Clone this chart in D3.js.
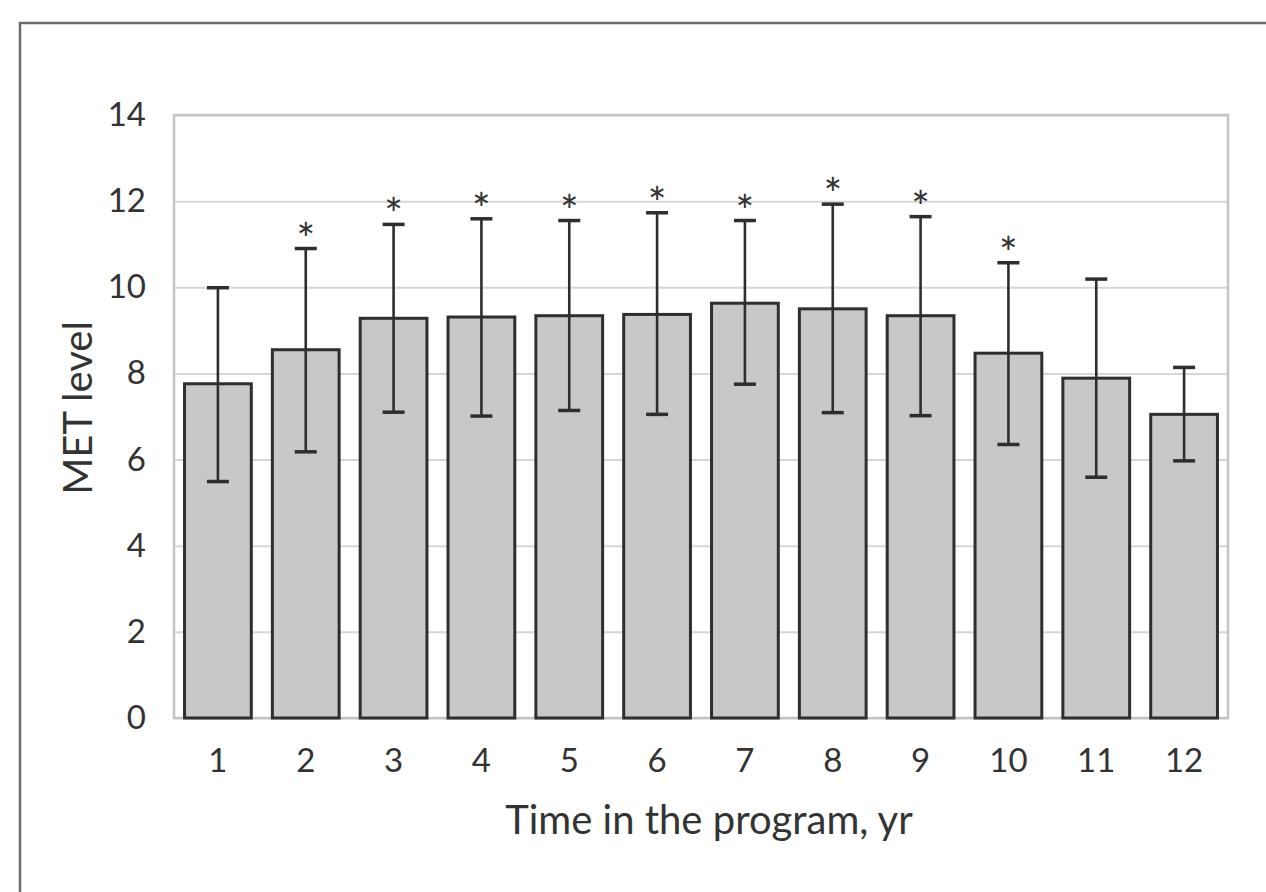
<!DOCTYPE html>
<html>
<head>
<meta charset="utf-8">
<script src="https://cdn.jsdelivr.net/npm/d3@7"></script>
<style>
  body { margin: 0; background: #fff; }
  svg { display: block; }
  text { font-family: Lato, "Open Sans", sans-serif; fill: #333; }
</style>
</head>
<body>
<div class="main"></div>
<script>
// values
var years = ["1", "2", "3", "4", "5", "6", "7", "8", "9", "10", "11", "12"];
var metMean = [7.76, 8.55, 9.28, 9.31, 9.34, 9.37, 9.63, 9.50, 9.34, 8.47, 7.89, 7.05];
var metUpper = [9.99, 10.90, 11.46, 11.59, 11.55, 11.73, 11.55, 11.93, 11.64, 10.57, 10.19, 8.14];
var metLower = [5.49, 6.18, 7.10, 7.01, 7.14, 7.05, 7.75, 7.09, 7.02, 6.35, 5.59, 5.97];
var significant = [false, true, true, true, true, true, true, true, true, true, false, false];
var yTicks = [0, 2, 4, 6, 8, 10, 12, 14];

var W = 1266, H = 892;
var plot = {left: 174, right: 1228, top: 115, bottom: 718};

var svg = d3.select(".main").append("svg")
    .attr("width", W)
    .attr("height", H);

// outer frame (runs off the right and bottom edge)
svg.append("rect")
    .attr("x", 20).attr("y", 23)
    .attr("width", 1400).attr("height", 1000)
    .attr("fill", "none")
    .attr("stroke", "#6b6b6b")
    .attr("stroke-width", 2.5);

var x = d3.scaleBand()
    .domain(years)
    .range([plot.left, plot.right])
    .paddingInner(0.24)
    .paddingOuter(0.12);

var y = d3.scaleLinear()
    .domain([0, 14])
    .range([plot.bottom, plot.top]);

// gridlines
svg.append("g")
    .attr("transform", "translate(" + plot.left + ",0)")
    .call(d3.axisLeft(y).tickValues(yTicks).tickSize(-(plot.right - plot.left)).tickFormat(""))
    .call(function(g) {
        g.select(".domain").remove();
        g.selectAll("line").attr("stroke", "#d6d6d6").attr("stroke-width", 2);
    });

// plot border
svg.append("rect")
    .attr("x", plot.left).attr("y", plot.top)
    .attr("width", plot.right - plot.left)
    .attr("height", plot.bottom - plot.top)
    .attr("fill", "none")
    .attr("stroke", "#c4c4c4")
    .attr("stroke-width", 2.5);

// y tick labels
svg.append("g")
    .attr("transform", "translate(" + plot.left + ",0)")
    .call(d3.axisLeft(y).tickValues(yTicks).tickSize(0).tickPadding(28))
    .call(function(g) {
        g.select(".domain").remove();
        g.selectAll("text")
            .attr("font-size", 33)
            .attr("font-family", "Lato, sans-serif")
            .attr("fill", "#333");
    });

// x tick labels
svg.append("g")
    .attr("transform", "translate(0," + plot.bottom + ")")
    .call(d3.axisBottom(x).tickSize(0).tickPadding(31))
    .call(function(g) {
        g.select(".domain").remove();
        g.selectAll("text")
            .attr("font-size", 33)
            .attr("font-family", "Lato, sans-serif")
            .attr("fill", "#333");
    });

var data = years.map(function(d, i) {
    return {year: d, mean: metMean[i], hi: metUpper[i], lo: metLower[i], sig: significant[i]};
});

// bars
svg.append("g").selectAll("rect")
    .data(data)
    .join("rect")
    .attr("x", function(d) { return x(d.year); })
    .attr("y", function(d) { return y(d.mean); })
    .attr("width", x.bandwidth())
    .attr("height", function(d) { return y(0) - y(d.mean); })
    .attr("fill", "#c7c8ca")
    .attr("stroke", "#2e2e2e")
    .attr("stroke-width", 3);

// error bars
var capW = 22;
var err = svg.append("g").selectAll("g")
    .data(data)
    .join("g")
    .attr("stroke", "#2e2e2e")
    .attr("stroke-width", 2.6);

err.append("line")
    .attr("x1", function(d) { return x(d.year) + x.bandwidth() / 2; })
    .attr("x2", function(d) { return x(d.year) + x.bandwidth() / 2; })
    .attr("y1", function(d) { return y(d.lo); })
    .attr("y2", function(d) { return y(d.hi); });

err.append("line")
    .attr("x1", function(d) { return x(d.year) + x.bandwidth() / 2 - capW / 2; })
    .attr("x2", function(d) { return x(d.year) + x.bandwidth() / 2 + capW / 2; })
    .attr("y1", function(d) { return y(d.hi); })
    .attr("y2", function(d) { return y(d.hi); })
    .attr("stroke-width", 3.5);

err.append("line")
    .attr("x1", function(d) { return x(d.year) + x.bandwidth() / 2 - capW / 2; })
    .attr("x2", function(d) { return x(d.year) + x.bandwidth() / 2 + capW / 2; })
    .attr("y1", function(d) { return y(d.lo); })
    .attr("y2", function(d) { return y(d.lo); })
    .attr("stroke-width", 3.5);

// significance marks
svg.append("g").selectAll("text")
    .data(data.filter(function(d) { return d.sig; }))
    .join("text")
    .attr("x", function(d) { return x(d.year) + x.bandwidth() / 2; })
    .attr("y", function(d) { return y(d.hi) + 6; })
    .attr("text-anchor", "middle")
    .attr("font-size", 44)
    .attr("fill", "#444")
    .text("*");

// axis titles
svg.append("text")
    .attr("x", (plot.left + plot.right) / 2 + 8)
    .attr("y", 834)
    .attr("text-anchor", "middle")
    .attr("font-size", 40)
    .text("Time in the program, yr");

svg.append("text")
    .attr("transform", "translate(92," + 408 + ") rotate(-90)")
    .attr("text-anchor", "middle")
    .attr("font-size", 40)
    .text("MET level");
</script>
</body>
</html>
